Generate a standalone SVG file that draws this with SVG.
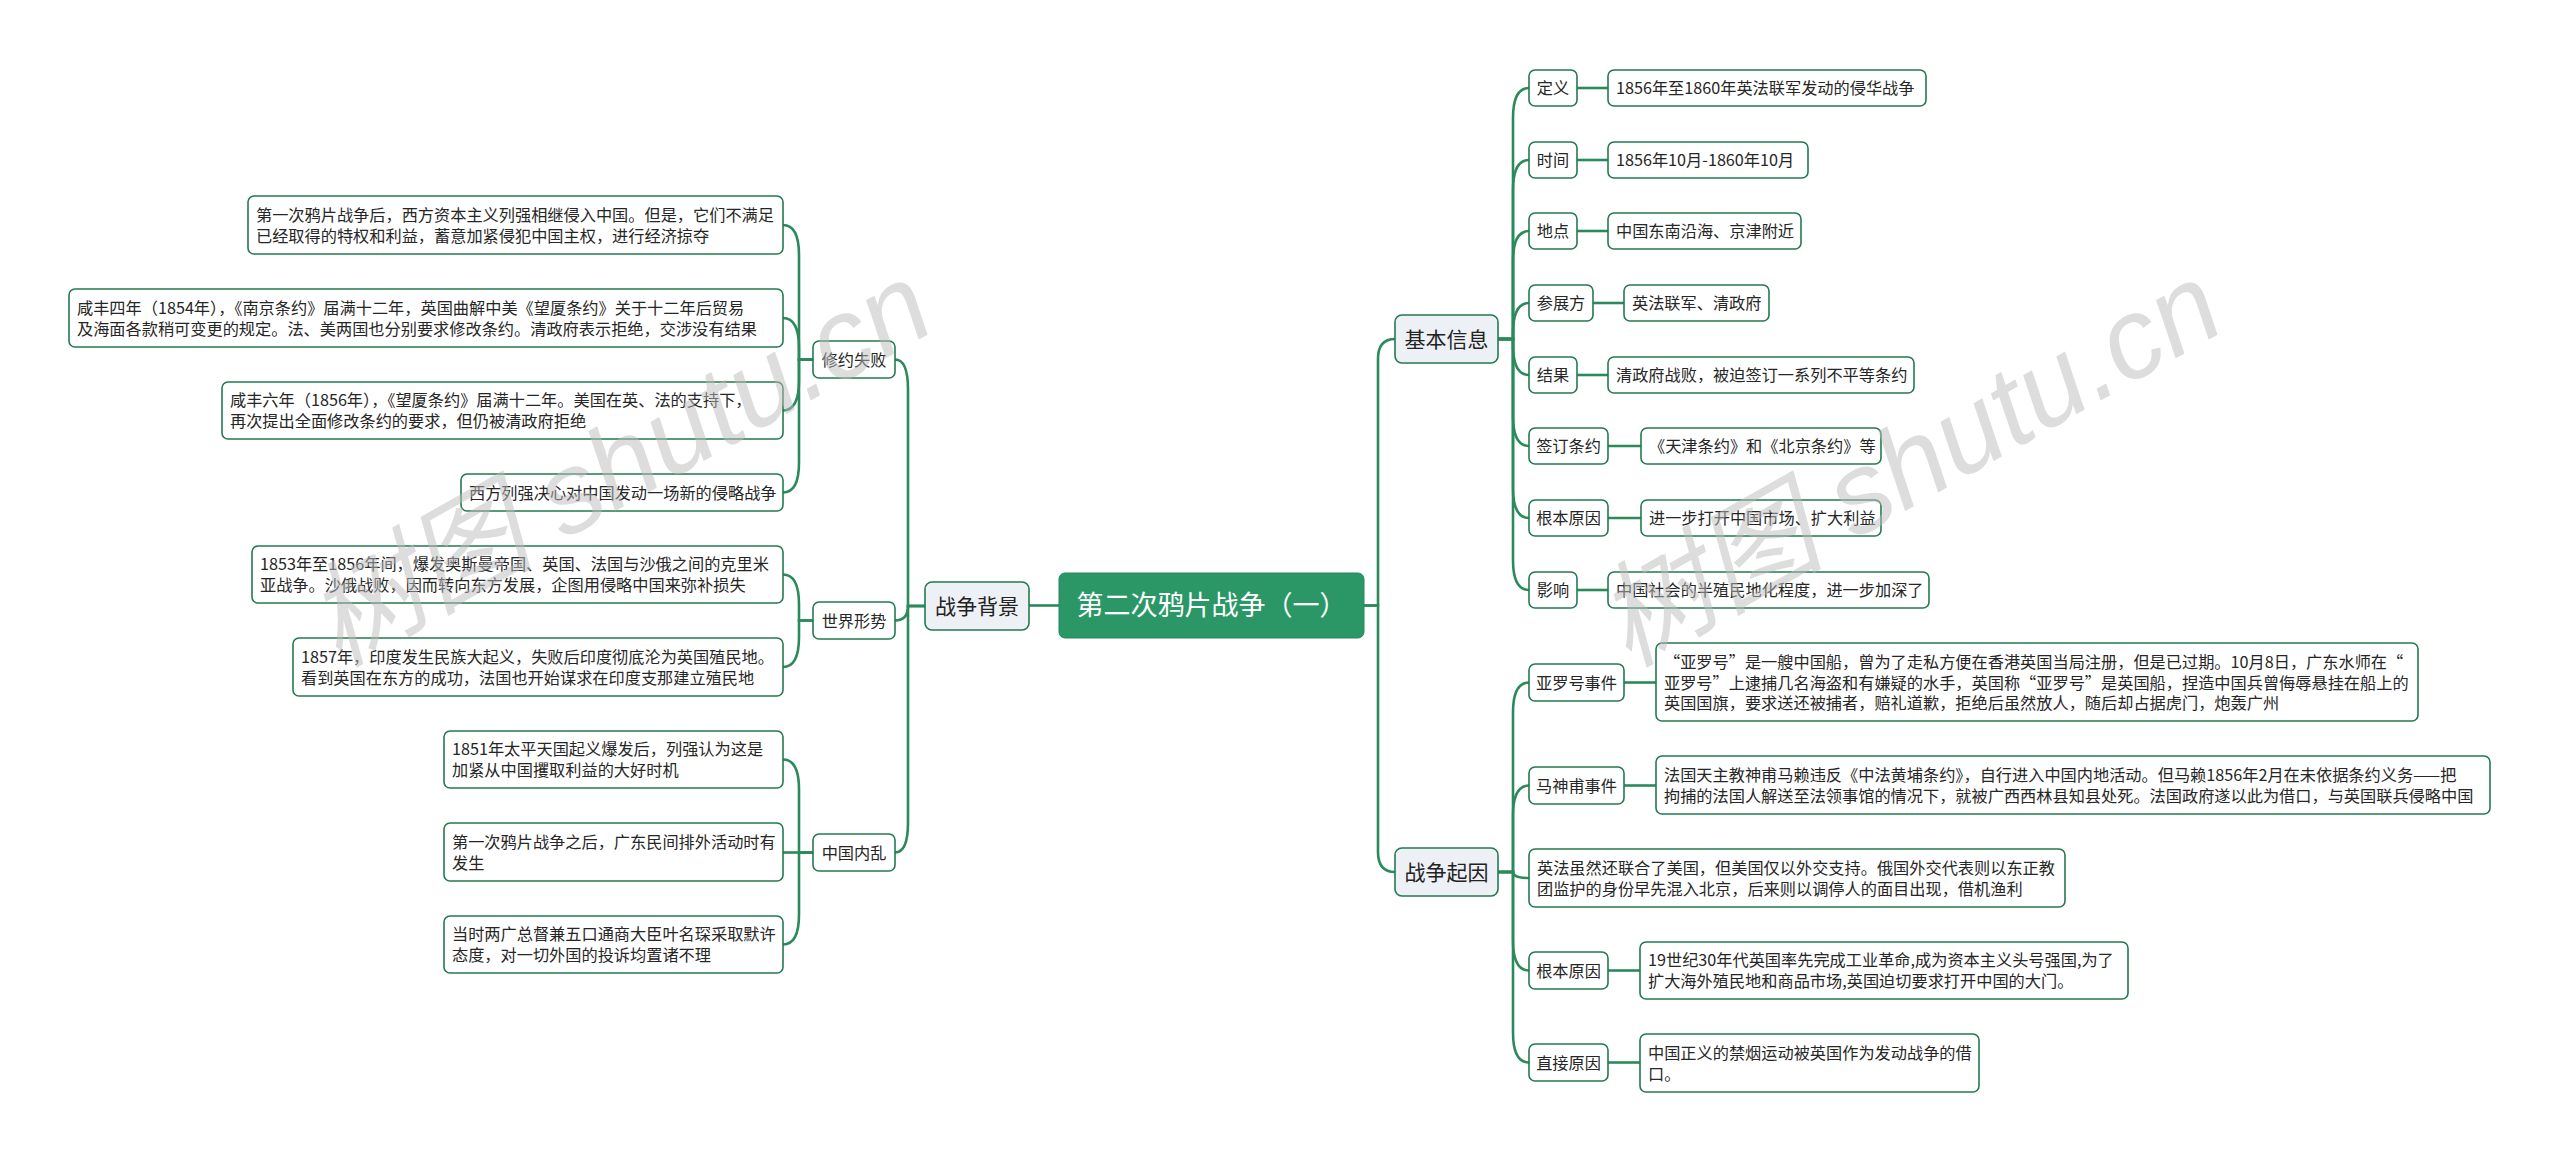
<svg xmlns="http://www.w3.org/2000/svg" width="2560" height="1161" viewBox="0 0 2560 1161">
<style>
.bg{fill:#ffffff}
.leaf{fill:#ffffff;stroke:#237a50;stroke-width:1.6}
.main{fill:#edf1f5;stroke:#237a50;stroke-width:1.6}
.root{fill:#2b9766;stroke:#25875a;stroke-width:1}
text{font-family:"Noto Sans CJK SC","Noto Sans",sans-serif;font-size:16.2px;fill:#262626}
.c{text-anchor:middle}
.m{font-size:21px;text-anchor:middle;fill:#222}
.r{font-size:27px;text-anchor:middle;fill:#ffffff}
.conn path{fill:none;stroke:#2a8a5c;stroke-width:2.6}
.wm{font-family:"Liberation Sans","Noto Sans CJK SC",sans-serif;font-size:114px;font-style:italic;fill:#bcbcbc;opacity:0.5}
</style>
<rect class="bg" x="0" y="0" width="2560" height="1161"/>
<g id="connectors" class="conn">
<path d="M1059,605.5 H1029"/>
<path d="M1364,605.5 H1378 V359 Q1378,339 1395,339"/>
<path d="M1364,605.5 H1378 V852 Q1378,872 1395,872"/>
<path d="M925,606 H908 V389.5 Q908,359.5 895,359.5"/>
<path d="M925,606 H908 Q908,620.5 895,620.5"/>
<path d="M925,606 H908 V822.5 Q908,852.5 895,852.5"/>
<path d="M1498,339 H1513 V118 Q1513,88 1529,88"/>
<path d="M1498,339 H1513 V190 Q1513,160 1529,160"/>
<path d="M1498,339 H1513 V261 Q1513,231 1529,231"/>
<path d="M1498,339 H1513 V333 Q1513,303 1529,303"/>
<path d="M1498,339 H1513 V345 Q1513,375 1529,375"/>
<path d="M1498,339 H1513 V416 Q1513,446 1529,446"/>
<path d="M1498,339 H1513 V488 Q1513,518 1529,518"/>
<path d="M1498,339 H1513 V560 Q1513,590 1529,590"/>
<path d="M1498,872 H1513 V712.5 Q1513,682.5 1529,682.5"/>
<path d="M1498,872 H1513 V815.5 Q1513,785.5 1529,785.5"/>
<path d="M1498,872 H1513 V872 Q1513,878 1529,878"/>
<path d="M1498,872 H1513 V940.5 Q1513,970.5 1529,970.5"/>
<path d="M1498,872 H1513 V1032.5 Q1513,1062.5 1529,1062.5"/>
<path d="M813,359.5 H799 V255 Q799,225 783,225"/>
<path d="M813,359.5 H799 V348 Q799,318 783,318"/>
<path d="M813,359.5 H799 V380.5 Q799,410.5 783,410.5"/>
<path d="M813,359.5 H799 V462.5 Q799,492.5 783,492.5"/>
<path d="M813,620.5 H799 V604.5 Q799,574.5 783,574.5"/>
<path d="M813,620.5 H799 V637 Q799,667 783,667"/>
<path d="M813,852.5 H799 V789.5 Q799,759.5 783,759.5"/>
<path d="M813,852.5 H783"/>
<path d="M813,852.5 H799 V914.5 Q799,944.5 783,944.5"/>
<path d="M1577,88 H1608"/>
<path d="M1577,160 H1608"/>
<path d="M1577,231 H1608"/>
<path d="M1593,303 H1624"/>
<path d="M1577,375 H1608"/>
<path d="M1608,446 H1641"/>
<path d="M1608,518 H1641"/>
<path d="M1577,590 H1608"/>
<path d="M1624,682.5 H1656"/>
<path d="M1624,785.5 H1656"/>
<path d="M1608,970.5 H1640"/>
<path d="M1608,1062.5 H1640"/>
</g>
<g id="root"><rect class="root" x="1059" y="573" width="305" height="65" rx="6"/><text class="r" x="1211.5" y="615">第二次鸦片战争（一）</text></g>
<g id="n-bj"><rect class="main" x="925" y="582" width="104" height="48" rx="7"/><text class="m" x="977" y="613.5">战争背景</text></g>
<g id="n-jb"><rect class="main" x="1395" y="315" width="103" height="48" rx="7"/><text class="m" x="1446.5" y="346.5">基本信息</text></g>
<g id="n-qy"><rect class="main" x="1395" y="848" width="103" height="48" rx="7"/><text class="m" x="1446.5" y="879.5">战争起因</text></g>
<g id="n-xy"><rect class="leaf" x="813" y="341" width="82" height="37" rx="6"/><text class="c" x="854" y="365.5">修约失败</text></g>
<g id="n-sj"><rect class="leaf" x="813" y="602" width="82" height="37" rx="6"/><text class="c" x="854" y="626.5">世界形势</text></g>
<g id="n-zg"><rect class="leaf" x="813" y="834" width="82" height="37" rx="6"/><text class="c" x="854" y="858.5">中国内乱</text></g>
<g id="n-a1"><rect class="leaf" x="248" y="196" width="535" height="58" rx="6"/><text x="256" y="220.5">第一次鸦片战争后，西方资本主义列强相继侵入中国。但是，它们不满足</text><text x="256" y="241.5">已经取得的特权和利益，蓄意加紧侵犯中国主权，进行经济掠夺</text></g>
<g id="n-a2"><rect class="leaf" x="69" y="289" width="714" height="58" rx="6"/><text x="77" y="313.5">咸丰四年（1854年），《南京条约》届满十二年，英国曲解中美《望厦条约》关于十二年后贸易</text><text x="77" y="334.5">及海面各款稍可变更的规定。法、美两国也分别要求修改条约。清政府表示拒绝，交涉没有结果</text></g>
<g id="n-a3"><rect class="leaf" x="222" y="382" width="561" height="57" rx="6"/><text x="230" y="406">咸丰六年（1856年），《望厦条约》届满十二年。美国在英、法的支持下，</text><text x="230" y="427">再次提出全面修改条约的要求，但仍被清政府拒绝</text></g>
<g id="n-a4"><rect class="leaf" x="461" y="474" width="322" height="37" rx="6"/><text x="469" y="498.5">西方列强决心对中国发动一场新的侵略战争</text></g>
<g id="n-b1"><rect class="leaf" x="252" y="546" width="531" height="57" rx="6"/><text x="260" y="570">1853年至1856年间，爆发奥斯曼帝国、英国、法国与沙俄之间的克里米</text><text x="260" y="591">亚战争。沙俄战败，因而转向东方发展，企图用侵略中国来弥补损失</text></g>
<g id="n-b2"><rect class="leaf" x="293" y="638" width="490" height="58" rx="6"/><text x="301" y="662.5">1857年，印度发生民族大起义，失败后印度彻底沦为英国殖民地。</text><text x="301" y="683.5">看到英国在东方的成功，法国也开始谋求在印度支那建立殖民地</text></g>
<g id="n-c1"><rect class="leaf" x="444" y="731" width="339" height="57" rx="6"/><text x="452" y="755">1851年太平天国起义爆发后，列强认为这是</text><text x="452" y="776">加紧从中国攫取利益的大好时机</text></g>
<g id="n-c2"><rect class="leaf" x="444" y="823" width="339" height="58" rx="6"/><text x="452" y="847.5">第一次鸦片战争之后，广东民间排外活动时有</text><text x="452" y="868.5">发生</text></g>
<g id="n-c3"><rect class="leaf" x="444" y="916" width="339" height="57" rx="6"/><text x="452" y="940">当时两广总督兼五口通商大臣叶名琛采取默许</text><text x="452" y="961">态度，对一切外国的投诉均置诸不理</text></g>
<g id="n-dy"><rect class="leaf" x="1529" y="70" width="48" height="36" rx="6"/><text class="c" x="1553" y="94">定义</text></g>
<g id="n-dy-v"><rect class="leaf" x="1608" y="70" width="318" height="36" rx="6"/><text x="1616" y="94">1856年至1860年英法联军发动的侵华战争</text></g>
<g id="n-sjj"><rect class="leaf" x="1529" y="142" width="48" height="36" rx="6"/><text class="c" x="1553" y="166">时间</text></g>
<g id="n-sjj-v"><rect class="leaf" x="1608" y="142" width="200" height="36" rx="6"/><text x="1616" y="166">1856年10月-1860年10月</text></g>
<g id="n-dd"><rect class="leaf" x="1529" y="213" width="48" height="36" rx="6"/><text class="c" x="1553" y="237">地点</text></g>
<g id="n-dd-v"><rect class="leaf" x="1608" y="213" width="193" height="36" rx="6"/><text x="1616" y="237">中国东南沿海、京津附近</text></g>
<g id="n-cz"><rect class="leaf" x="1529" y="285" width="64" height="36" rx="6"/><text class="c" x="1561" y="309">参展方</text></g>
<g id="n-cz-v"><rect class="leaf" x="1624" y="285" width="145" height="36" rx="6"/><text x="1632" y="309">英法联军、清政府</text></g>
<g id="n-jg"><rect class="leaf" x="1529" y="357" width="48" height="36" rx="6"/><text class="c" x="1553" y="381">结果</text></g>
<g id="n-jg-v"><rect class="leaf" x="1608" y="357" width="306" height="36" rx="6"/><text x="1616" y="381">清政府战败，被迫签订一系列不平等条约</text></g>
<g id="n-qd"><rect class="leaf" x="1529" y="428" width="79" height="36" rx="6"/><text class="c" x="1568.5" y="452">签订条约</text></g>
<g id="n-qd-v"><rect class="leaf" x="1641" y="428" width="240" height="36" rx="6"/><text x="1649" y="452">《天津条约》和《北京条约》等</text></g>
<g id="n-gb"><rect class="leaf" x="1529" y="500" width="79" height="36" rx="6"/><text class="c" x="1568.5" y="524">根本原因</text></g>
<g id="n-gb-v"><rect class="leaf" x="1641" y="500" width="240" height="36" rx="6"/><text x="1649" y="524">进一步打开中国市场、扩大利益</text></g>
<g id="n-yx"><rect class="leaf" x="1529" y="572" width="48" height="36" rx="6"/><text class="c" x="1553" y="596">影响</text></g>
<g id="n-yx-v"><rect class="leaf" x="1608" y="572" width="321" height="36" rx="6"/><text x="1616" y="596">中国社会的半殖民地化程度，进一步加深了</text></g>
<g id="n-yl"><rect class="leaf" x="1529" y="664" width="95" height="37" rx="6"/><text class="c" x="1576.5" y="688.5">亚罗号事件</text></g>
<g id="n-yl-v"><rect class="leaf" x="1656" y="643" width="762" height="78" rx="6"/><text x="1664" y="668">“亚罗号”是一艘中国船，曾为了走私方便在香港英国当局注册，但是已过期。10月8日，广东水师在“</text><text x="1664" y="688.5">亚罗号”上逮捕几名海盗和有嫌疑的水手，英国称“亚罗号”是英国船，捏造中国兵曾侮辱悬挂在船上的</text><text x="1664" y="709">英国国旗，要求送还被捕者，赔礼道歉，拒绝后虽然放人，随后却占据虎门，炮轰广州</text></g>
<g id="n-ms"><rect class="leaf" x="1529" y="767" width="95" height="37" rx="6"/><text class="c" x="1576.5" y="791.5">马神甫事件</text></g>
<g id="n-ms-v"><rect class="leaf" x="1656" y="756" width="834" height="58" rx="6"/><text x="1664" y="780.5">法国天主教神甫马赖违反《中法黄埔条约》，自行进入中国内地活动。但马赖1856年2月在未依据条约义务——把</text><text x="1664" y="801.5">拘捕的法国人解送至法领事馆的情况下，就被广西西林县知县处死。法国政府遂以此为借口，与英国联兵侵略中国</text></g>
<g id="n-yf"><rect class="leaf" x="1529" y="849" width="536" height="58" rx="6"/><text x="1537" y="873.5">英法虽然还联合了美国，但美国仅以外交支持。俄国外交代表则以东正教</text><text x="1537" y="894.5">团监护的身份早先混入北京，后来则以调停人的面目出现，借机渔利</text></g>
<g id="n-gb2"><rect class="leaf" x="1529" y="952" width="79" height="37" rx="6"/><text class="c" x="1568.5" y="976.5">根本原因</text></g>
<g id="n-gb2-v"><rect class="leaf" x="1640" y="942" width="488" height="57" rx="6"/><text x="1648" y="966">19世纪30年代英国率先完成工业革命,成为资本主义头号强国,为了</text><text x="1648" y="987">扩大海外殖民地和商品市场,英国迫切要求打开中国的大门。</text></g>
<g id="n-zj"><rect class="leaf" x="1529" y="1044" width="79" height="37" rx="6"/><text class="c" x="1568.5" y="1068.5">直接原因</text></g>
<g id="n-zj-v"><rect class="leaf" x="1640" y="1034" width="339" height="58" rx="6"/><text x="1648" y="1058.5">中国正义的禁烟运动被英国作为发动战争的借</text><text x="1648" y="1079.5">口。</text></g>
<g id="watermark">
<text class="wm" transform="translate(338,668) rotate(-29.5)">树图 shutu.cn</text>
<text class="wm" transform="translate(1628,668) rotate(-29.5)">树图 shutu.cn</text>
</g>
</svg>
